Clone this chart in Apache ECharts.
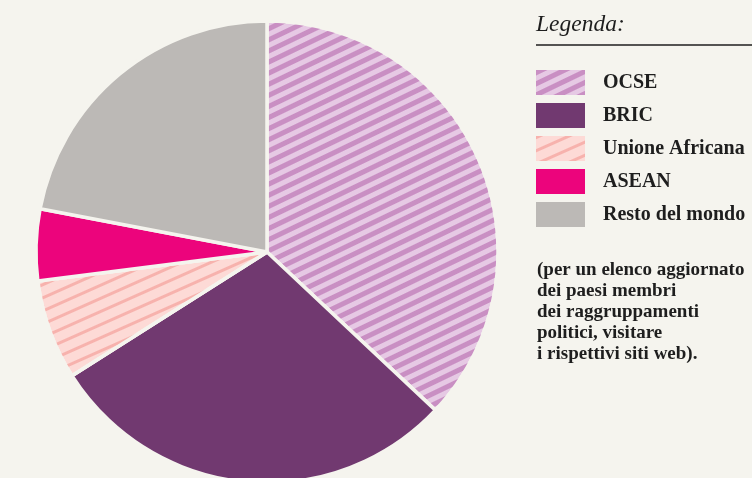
<!DOCTYPE html>
<html>
<head>
<meta charset="utf-8">
<script src="https://cdn.jsdelivr.net/npm/echarts@6/dist/echarts.min.js"></script>
<style>
  html, body { margin: 0; padding: 0; background: #f5f4ee; }
  #chart { width: 752px; height: 478px; }
</style>
</head>
<body>
<div id="chart"></div>
<script>
// dati
const groups = ['OCSE', 'BRIC', 'Unione Africana', 'ASEAN', 'Resto del mondo']
const shares = [37, 29, 7, 5, 22]
const colors = ['#e6c9e4', '#713970', '#fddad6', '#ec047c', '#bcb9b6']
const noteLines = [
  '(per un elenco aggiornato',
  'dei paesi membri',
  'dei raggruppamenti',
  'politici, visitare',
  'i rispettivi siti web).'
]

const bg = '#f5f4ee'
const serif = '"Liberation Serif", "DejaVu Serif", serif'

// tratteggi per OCSE e Unione Africana
const decals = {
  'OCSE': { symbol: 'rect', symbolSize: 1, color: '#c98fc3', dashArrayX: [1, 0], dashArrayY: [4.3, 4.2], rotation: -Math.PI / 7 },
  'Unione Africana': { symbol: 'rect', symbolSize: 1, color: '#f7b2ad', dashArrayX: [1, 0], dashArrayY: [2.5, 8.5], rotation: -Math.PI / 7.5 }
}

const chart = echarts.init(document.getElementById('chart'))

chart.setOption({
  backgroundColor: bg,
  animation: false,
  title: {
    text: 'Legenda:',
    left: 536, top: 13, padding: 0,
    textStyle: { fontFamily: serif, fontStyle: 'italic', fontWeight: 'normal', fontSize: 23.5, color: '#1e1e1e' }
  },
  legend: {
    orient: 'vertical',
    left: 536, top: 70, padding: 0,
    itemWidth: 49, itemHeight: 25, itemGap: 8,
    icon: 'rect',
    itemStyle: { borderWidth: 0 },
    data: groups,
    textStyle: { fontFamily: serif, fontWeight: 'bold', fontSize: 20, color: '#1e1e1e', padding: [0, 0, 0, 13] }
  },
  graphic: [
    { type: 'line', shape: { x1: 536, y1: 45, x2: 752, y2: 45 }, style: { stroke: '#1e1e1e', lineWidth: 1.5 } },
    {
      type: 'text', left: 537, top: 259,
      style: {
        text: noteLines.join('\n'),
        font: 'bold 19px ' + serif,
        lineHeight: 21.2,
        fill: '#1e1e1e'
      }
    }
  ],
  series: [{
    type: 'pie',
    center: [267, 252],
    radius: 231,
    startAngle: 90,
    clockwise: true,
    label: { show: false },
    labelLine: { show: false },
    emphasis: { disabled: true },
    itemStyle: { borderColor: bg, borderWidth: 3.5 },
    data: groups.map((g, i) => ({
      name: g,
      value: shares[i],
      itemStyle: { color: colors[i], decal: decals[g] || null }
    }))
  }]
})
</script>
</body>
</html>
